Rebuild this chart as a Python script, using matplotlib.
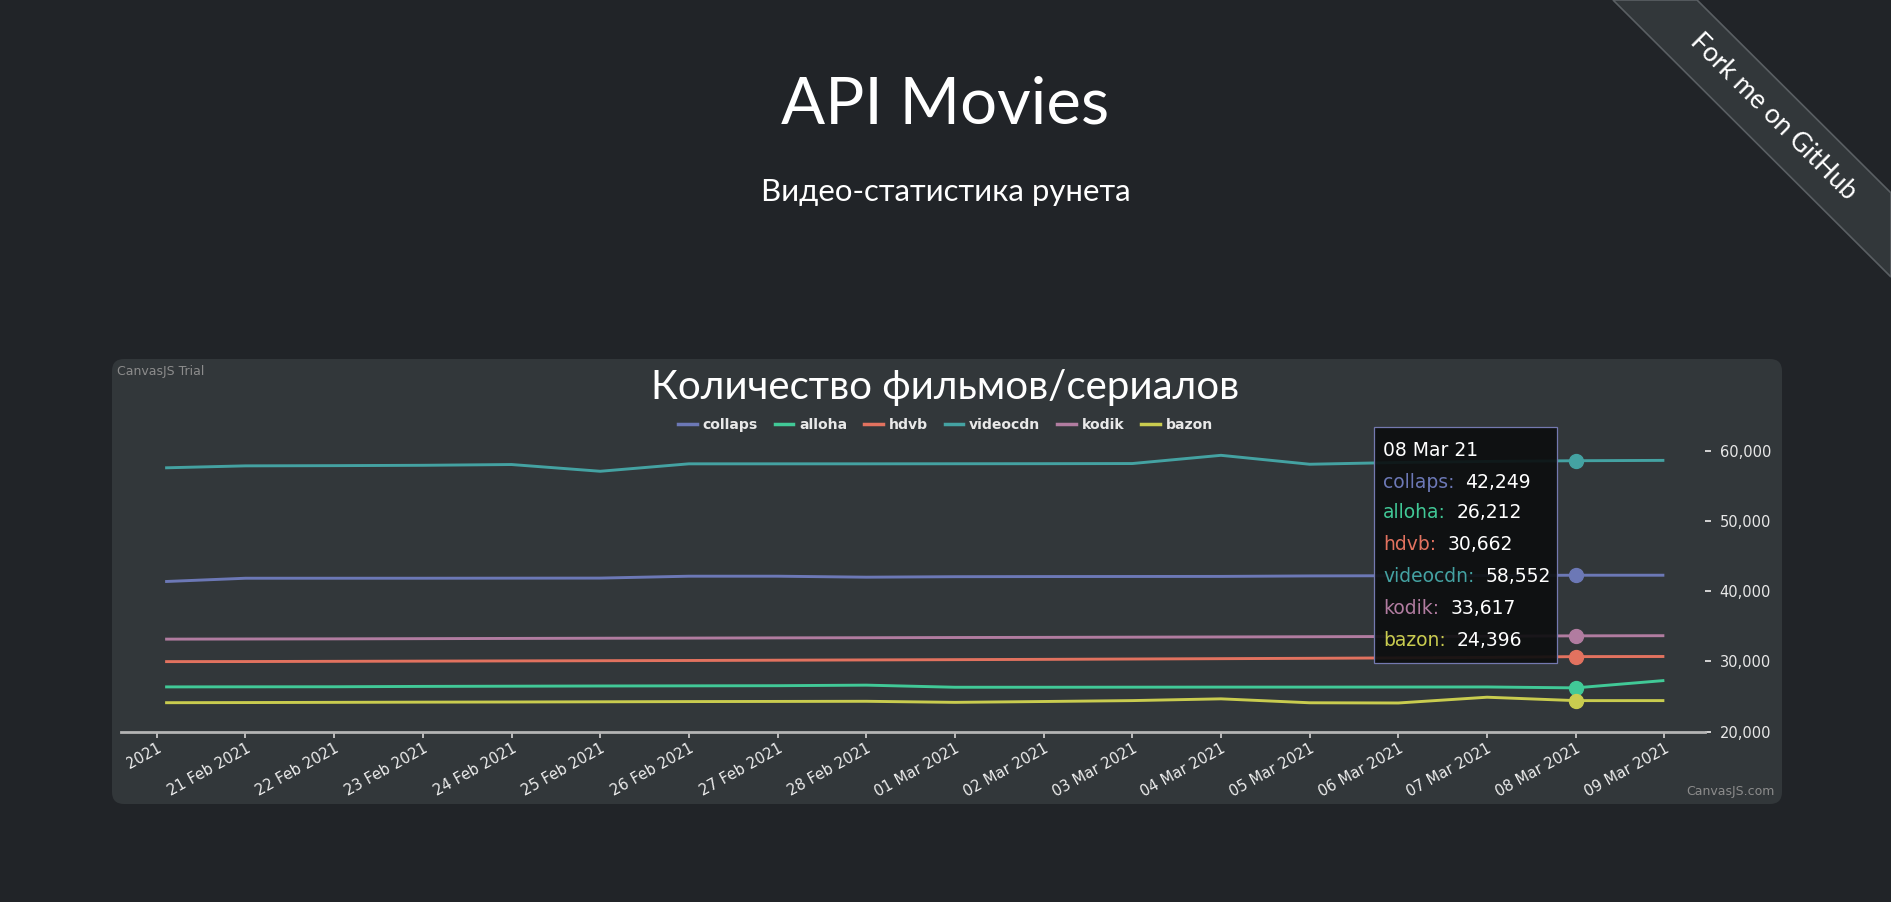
import matplotlib
matplotlib.use("Agg")
import matplotlib.pyplot as plt
import matplotlib.dates as mdates
import numpy as np
import pandas as pd
from matplotlib import font_manager
from matplotlib.patches import FancyBboxPatch, Rectangle, Polygon
from matplotlib.lines import Line2D
from matplotlib.ticker import FuncFormatter
from matplotlib.transforms import Bbox

W, H = 1891, 902

# --- data -------------------------------------------------------------
dates = pd.to_datetime(["2021-02-20 02:15", "2021-02-21 00:00", "2021-02-22 00:00",
                        "2021-02-23 00:00", "2021-02-24 00:00", "2021-02-25 00:00",
                        "2021-02-26 00:00", "2021-02-27 00:00", "2021-02-28 00:00",
                        "2021-03-01 00:00", "2021-03-02 00:00", "2021-03-03 00:00",
                        "2021-03-04 00:00", "2021-03-05 00:00", "2021-03-06 00:00",
                        "2021-03-07 00:00", "2021-03-08 00:00", "2021-03-09 00:00"])
tick_dates = pd.date_range("2021-02-20", "2021-03-09")

series_names = ["collaps", "alloha", "hdvb", "videocdn", "kodik", "bazon"]
collaps = [41350, 41820, 41820, 41820, 41830, 41840, 42110, 42110, 41970,
           42040, 42060, 42070, 42080, 42150, 42180, 42200, 42249, 42250]
alloha = [26350, 26360, 26370, 26420, 26450, 26480, 26500, 26520, 26600,
          26300, 26300, 26310, 26320, 26320, 26330, 26340, 26212, 27260]
hdvb = [29950, 29960, 29990, 30020, 30050, 30080, 30110, 30150, 30190,
        30230, 30270, 30320, 30370, 30420, 30480, 30550, 30662, 30680]
videocdn = [57540, 57820, 57850, 57900, 58010, 57050, 58110, 58110, 58110,
            58120, 58130, 58150, 59320, 58050, 58300, 58450, 58552, 58600]
kodik = [33150, 33170, 33190, 33220, 33250, 33280, 33300, 33330, 33350,
         33380, 33400, 33430, 33460, 33490, 33530, 33570, 33617, 33640]
bazon = [24100, 24120, 24150, 24180, 24200, 24230, 24260, 24280, 24300,
         24150, 24270, 24400, 24650, 24090, 24060, 24880, 24396, 24400]
all_series = [collaps, alloha, hdvb, videocdn, kodik, bazon]
colors = ["#6c78b6", "#41c997", "#e2725f", "#44a2a2", "#b17ca0", "#c9cc4f"]
y_ticks = [20000, 30000, 40000, 50000, 60000]
hover_idx = 16  # 08 Mar

page_bg = "#212428"
panel_bg = "#32373a"

# narrow font for the tooltip if there is one
installed = {f.name for f in font_manager.fontManager.ttflist}
if "Liberation Sans Narrow" in installed:
    tip_font, tip_size = ["Liberation Sans Narrow", "DejaVu Sans"], 17
else:
    tip_font, tip_size = ["DejaVu Sans"], 13.5
head_font = ["Lato", "DejaVu Sans"]


def fx(x):
    return x / W


def fy(y):
    return 1 - y / H


fig = plt.figure(figsize=(W / 100, H / 100), dpi=100)
fig.patch.set_facecolor(page_bg)

# chart panel
panel = FancyBboxPatch((112, H - 804), 1670, 445, boxstyle="round,pad=0,rounding_size=12",
                       transform=None, facecolor=panel_bg, edgecolor="none", zorder=-1)
fig.add_artist(panel)

# header
fig.text(0.5, fy(105), "API Movies", ha="center", va="center", color="white",
         fontsize=47, family=head_font)
fig.text(0.5, fy(192), "Видео-статистика рунета", ha="center", va="center", color="white",
         fontsize=22.4, family=head_font)

# fork ribbon
rib = Polygon([(1613, H), (1697, H), (W, H - 193), (W, H - 277)], closed=True,
              transform=None, facecolor=panel_bg, edgecolor="#5a5f63", lw=1.2, zorder=2)
fig.add_artist(rib)
fig.text(fx(1773), fy(117), "Fork me on GitHub", rotation=-45, ha="center", va="center",
         rotation_mode="anchor", color="white", fontsize=19, family=head_font)

# axes
ax = fig.add_axes([fx(120.6), fy(731.5), fx(1705) - fx(120.6), fy(436.5) - fy(731.5)])
ax.set_facecolor("none")
for name, vals, c in zip(series_names, all_series, colors):
    ax.plot(dates, vals, color=c, lw=2.1, label=name, solid_capstyle="butt")
    ax.plot(dates[hover_idx], vals[hover_idx], "o", color=c, ms=10, zorder=5)

ax.set_ylim(20000, 62000)
ax.set_xlim(tick_dates[0] - pd.Timedelta(hours=9.8), tick_dates[-1] + pd.Timedelta(hours=11))
ax.set_yticks(y_ticks)
ax.yaxis.tick_right()
ax.yaxis.set_major_formatter(FuncFormatter(lambda v, p: f"{int(v):,}"))
ax.tick_params(axis="y", colors="#e0e0e0", length=4.5, width=1.3, pad=6, labelsize=10.5,
               labelcolor="#e8e8e8")
ax.set_xticks(tick_dates)
ax.xaxis.set_major_formatter(mdates.DateFormatter("%d %b %Y"))
ax.tick_params(axis="x", colors="#c8c8c8", length=4.5, width=1.3, pad=2, labelsize=10.6,
               labelcolor="#eeeeee")
for s in ["top", "left", "right"]:
    ax.spines[s].set_visible(False)
ax.spines["bottom"].set_color("#b4b4b4")
ax.spines["bottom"].set_linewidth(2)
clip = Bbox([[126, 0], [W, H]])
for tick in ax.xaxis.get_major_ticks():
    lbl = tick.label1
    lbl.set_rotation(29)
    lbl.set_ha("right")
    lbl.set_va("top")
    lbl.set_rotation_mode("anchor")
    lbl.set_clip_on(True)
    lbl.set_clip_box(clip)

# chart title and legend
fig.text(0.5, fy(388), "Количество фильмов/сериалов", ha="center", va="center",
         color="white", fontsize=29, family=head_font)
handles = [Line2D([], [], color=c, lw=2.5) for c in colors]
fig.legend(handles, series_names, loc="center", bbox_to_anchor=(0.5, fy(424.5)), ncol=6,
           frameon=False, handlelength=1.35, handletextpad=0.4, columnspacing=1.2,
           labelcolor="#e8e8e8", prop={"weight": "bold", "size": 10.1})

fig.text(fx(117), fy(371), "CanvasJS Trial", ha="left", va="center", color="#8c8c8c", fontsize=9)
fig.text(fx(1775), fy(792), "CanvasJS.com", ha="right", va="center", color="#8c8c8c", fontsize=9)

# tooltip
tip = Rectangle((1374, H - 663), 183, 236, transform=None, facecolor="#0c0e0f", alpha=0.92,
                edgecolor="none", zorder=6)
fig.add_artist(tip)
tip_edge = Rectangle((1374, H - 663), 183, 236, transform=None, facecolor="none",
                     edgecolor="#7479b0", lw=0.9, zorder=7)
fig.add_artist(tip_edge)
fig.text(fx(1383), fy(450), dates[hover_idx].strftime("%d %b %y"), ha="left", va="center",
         color="white", fontsize=tip_size, family=tip_font, zorder=8)
row_y = [482, 513, 545, 577, 609, 640]
fig.canvas.draw()
for name, vals, c, yy in zip(series_names, all_series, colors, row_y):
    t = fig.text(fx(1383), fy(yy), f"{name}:", ha="left", va="center", color=c,
                 fontsize=tip_size, family=tip_font, zorder=8)
    bb = t.get_window_extent(renderer=fig.canvas.get_renderer())
    fig.text((bb.x1 + 11) / W, fy(yy), f"{vals[hover_idx]:,}", ha="left", va="center",
             color="white", fontsize=tip_size, family=tip_font, zorder=8)

fig.savefig("out.png", dpi=100, facecolor=page_bg)
